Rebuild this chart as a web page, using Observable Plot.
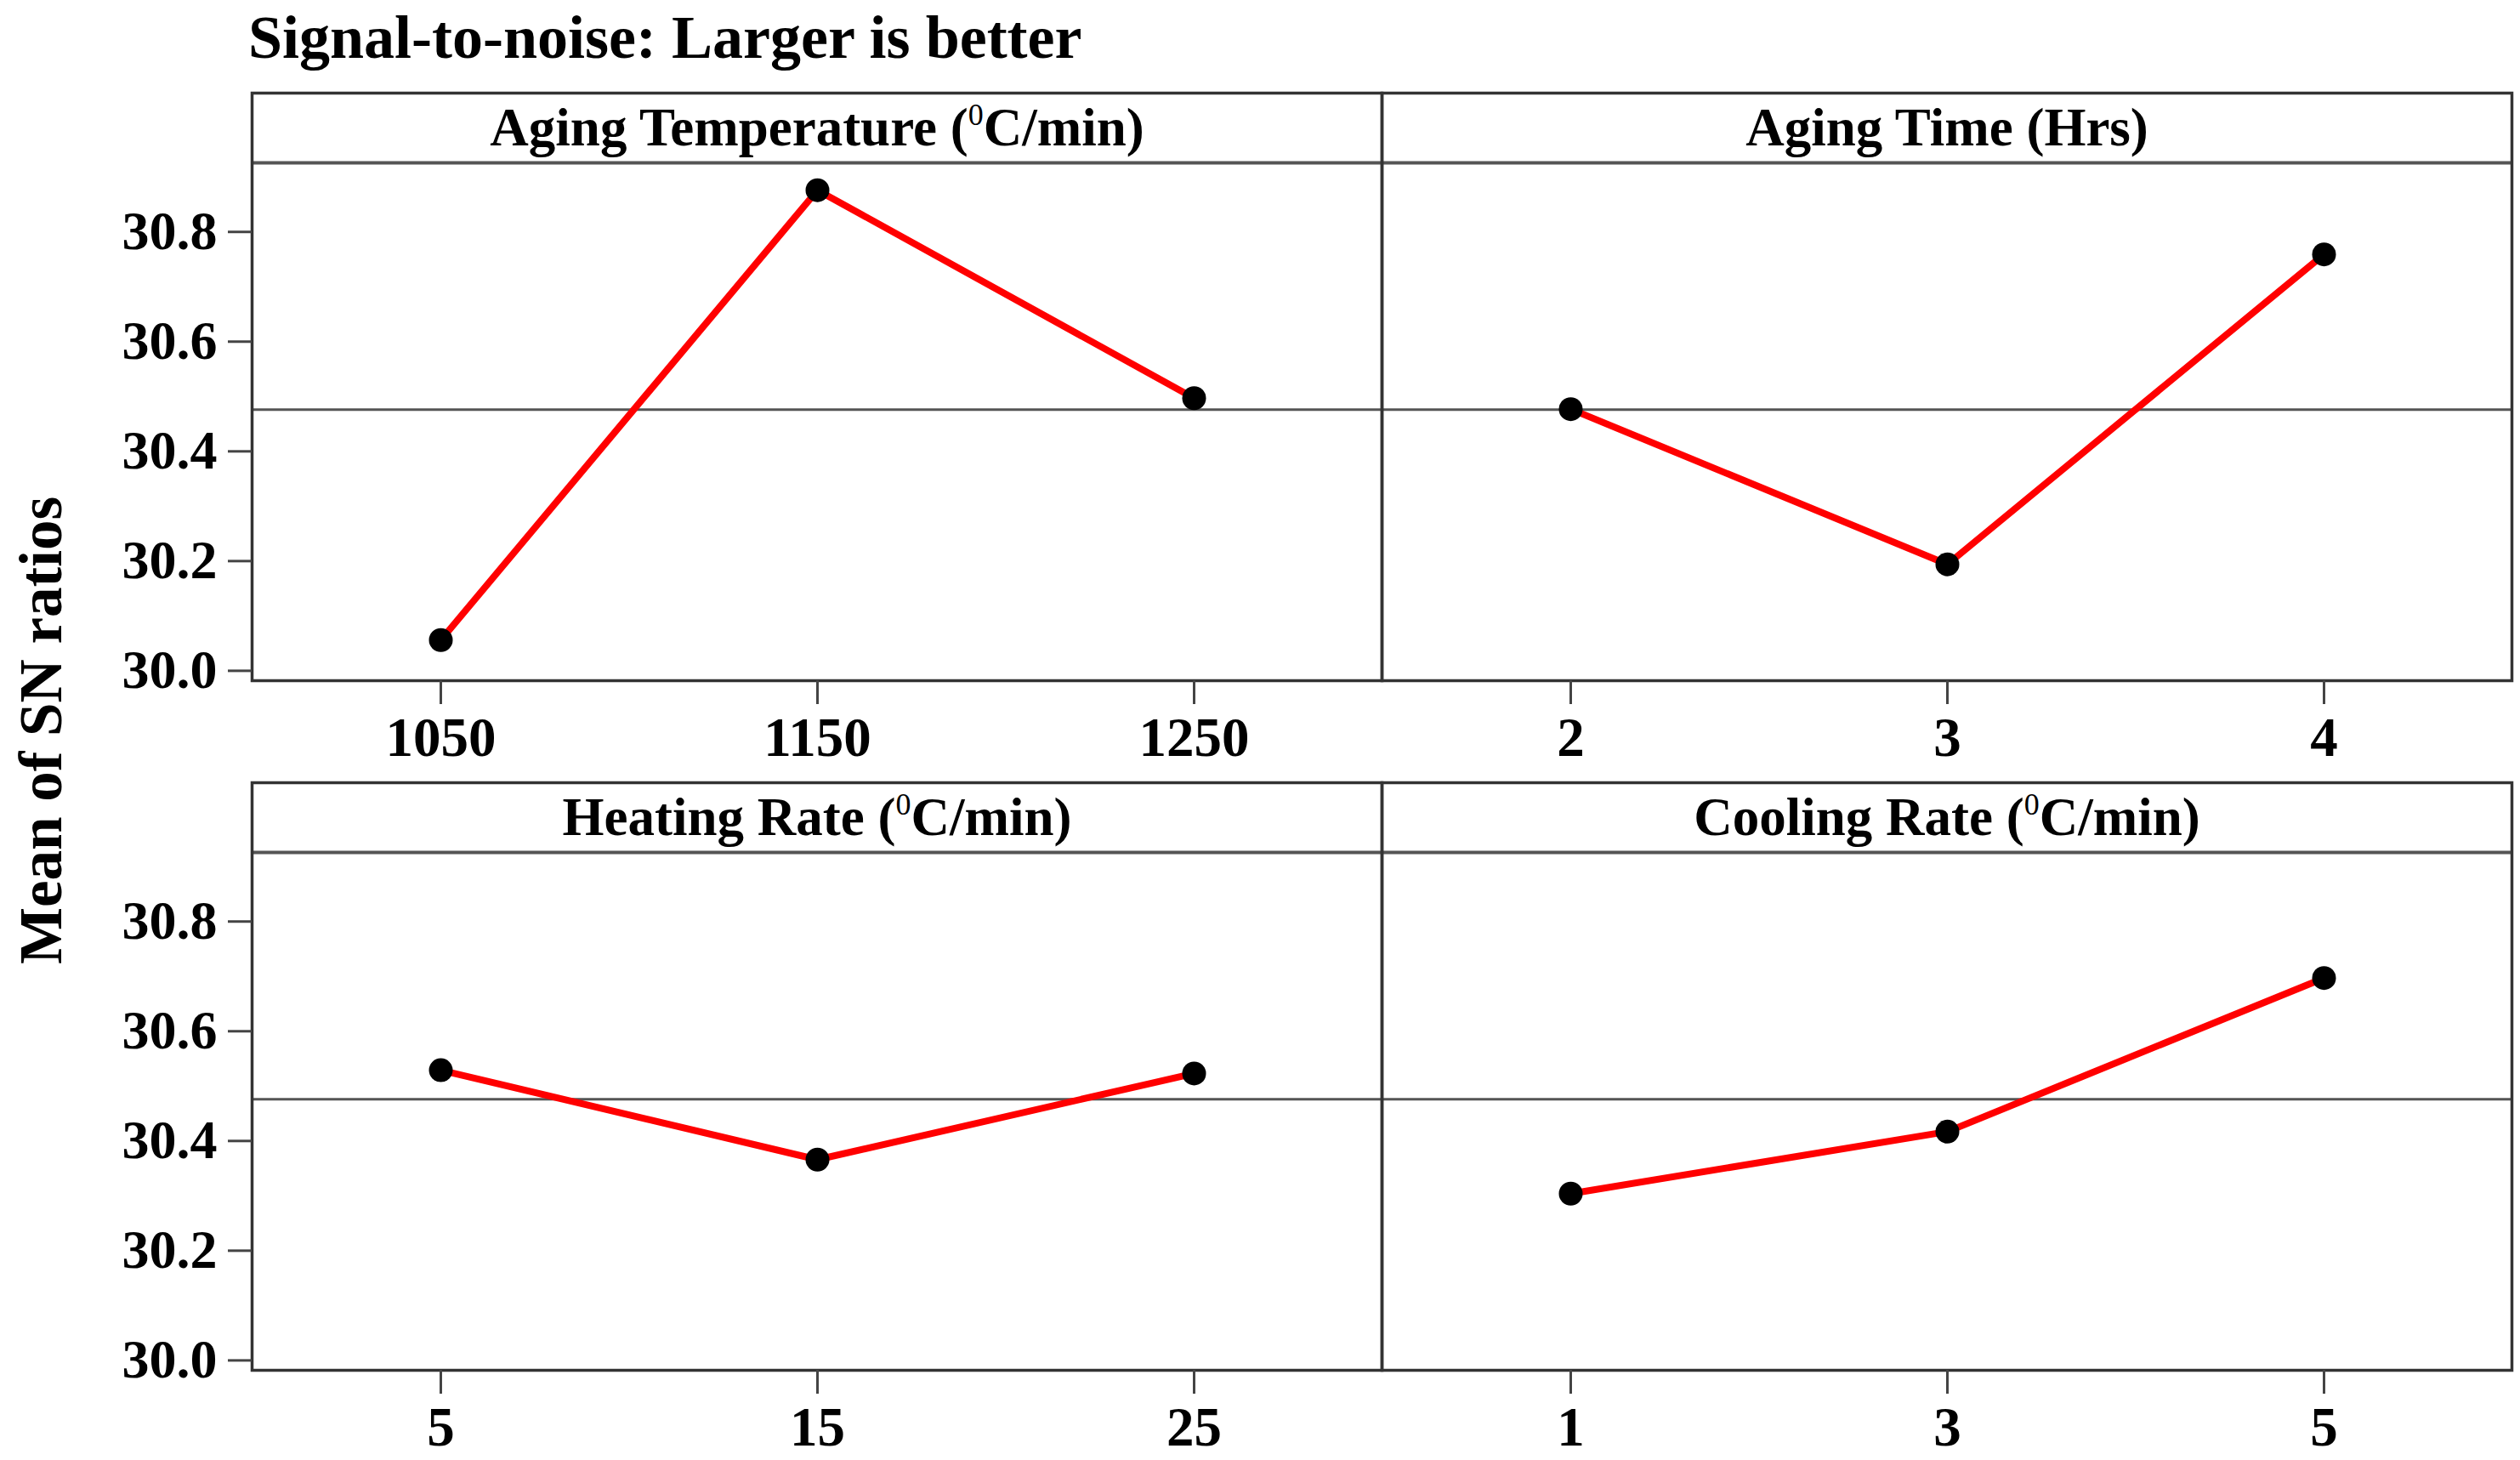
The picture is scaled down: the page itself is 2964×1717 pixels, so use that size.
<!DOCTYPE html>
<html>
<head>
<meta charset="utf-8">
<script src="https://cdn.jsdelivr.net/npm/d3@7"></script>
<script src="https://cdn.jsdelivr.net/npm/@observablehq/plot@0.6"></script>
<style>
  html, body { margin: 0; padding: 0; background: white; }
  body { width: 2964px; height: 1717px; position: relative; overflow: hidden; }
  #title { position: absolute; left: 292px; top: 8px; font: bold 72px "Liberation Serif", "Times New Roman", serif; line-height: 72px; white-space: nowrap; color: black; z-index: 2; }
  #ylabel { position: absolute; left: 48px; top: 859px; transform: translate(-50%, -50%) rotate(-90deg); font: bold 71px "Liberation Serif", "Times New Roman", serif; white-space: nowrap; color: black; z-index: 2; }
  #chart { position: absolute; left: 0; top: 100px; z-index: 1; }
</style>
</head>
<body>
<div id="chart"></div>
<div id="title">Signal-to-noise: Larger is better</div>
<div id="ylabel">Mean of SN ratios</div>
<script>
// ---- data ----
const factors = ["Aging Temperature (⁰C/min)", "Aging Time (Hrs)", "Heating Rate (⁰C/min)", "Cooling Rate (⁰C/min)"];
const levelLabels = [["1050", "1150", "1250"], ["2", "3", "4"], ["5", "15", "25"], ["1", "3", "5"]];
const agingTemperature = [30.056, 30.876, 30.497];
const agingTime = [30.477, 30.194, 30.759];
const heatingRate = [30.529, 30.366, 30.523];
const coolingRate = [30.304, 30.417, 30.697];
const overallMean = 30.476;
const yTicks = [30.0, 30.2, 30.4, 30.6, 30.8];

const series = [agingTemperature, agingTime, heatingRate, coolingRate];
const points = [];
series.forEach((vals, f) => {
  vals.forEach((v, i) => {
    points.push({factor: factors[f], col: f % 2, row: Math.floor(f / 2), idx: i, level: levelLabels[f][i], value: v});
  });
});
const panels = factors.map((name, f) => ({factor: name, col: f % 2, row: Math.floor(f / 2)}));

const yDomain = [29.982, 31.053];
const stripBoundary = 30.926;
const font = '"Liberation Serif", "Times New Roman", serif';

const chart = Plot.plot({
  width: 2964,
  height: 1617,
  marginLeft: 295,
  marginRight: 10,
  marginTop: 9,
  marginBottom: 106,
  style: {fontFamily: font, fontWeight: "bold", fontSize: "64px", background: "white", color: "black", overflow: "visible"},
  fx: {domain: [0, 1], paddingInner: 0, paddingOuter: 0, axis: null},
  fy: {domain: [0, 1], paddingInner: 0.148, paddingOuter: 0, axis: null},
  x: {type: "point", domain: [0, 1, 2], padding: 0.5, axis: null},
  y: {domain: yDomain, axis: null},
  marks: [
    Plot.ruleY([overallMean], {stroke: "#555", strokeWidth: 3}),
    Plot.ruleY([stripBoundary], {stroke: "#555", strokeWidth: 4}),
    Plot.frame({stroke: "#333", strokeWidth: 3.5}),
    Plot.line(points, {x: "idx", y: "value", fx: "col", fy: "row", z: "factor", stroke: "#ff0000", strokeWidth: 8}),
    Plot.dot(points, {x: "idx", y: "value", fx: "col", fy: "row", r: 14, fill: "black", stroke: "none"}),
    Plot.text(panels, {text: "factor", fx: "col", fy: "row", frameAnchor: "top", dy: 41, lineAnchor: "middle", fontSize: 63, fontWeight: "bold"}),
    Plot.text(points, {x: "idx", text: "level", fx: "col", fy: "row", frameAnchor: "bottom", dy: 68, lineAnchor: "middle", fontSize: 65, fontWeight: "bold"}),
    Plot.axisX({facetAnchor: null, tickSize: 28, tickFormat: () => "", stroke: "#444", strokeWidth: 3, label: null}),
    Plot.axisY({ticks: yTicks, tickFormat: ".1f", tickSize: 28, tickPadding: 13, fontSize: 64, fontWeight: "bold", stroke: "#444", strokeWidth: 3, label: null})
  ]
});

// render the degree "0" as a small, light superscript like the original
d3.select(chart).selectAll("text").each(function() {
  const t = this.textContent;
  if (this.children.length === 0 && t.includes("⁰")) {
    const [before, after] = t.split("⁰");
    const sel = d3.select(this);
    sel.text(null);
    sel.append("tspan").text(before);
    sel.append("tspan").attr("font-size", "36px").attr("font-weight", "normal").attr("dy", "-24px").text("0");
    sel.append("tspan").attr("dy", "24px").text(after);
  }
});
document.getElementById("chart").appendChild(chart);
</script>
</body>
</html>
